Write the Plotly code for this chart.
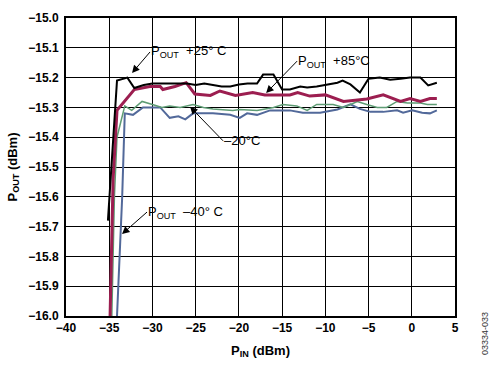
import plotly.graph_objects as go

# P_IN (dBm) and P_OUT (dBm)
x_p25 = [-35.15, -34.1, -32.9, -32.1, -31.0, -30.0, -29.0, -28.0, -27.0, -26.0, -25.0, -24.0, -23.0, -22.0,
         -21.0, -20.0, -19.0, -17.9, -17.2, -16.0, -15.0, -14.1, -12.9, -12.1, -11.0, -9.8, -8.6, -8.0,
         -7.1, -6.0, -5.0, -3.7, -2.5, -1.3, -0.2, 1.0, 1.9, 2.9]
y_p25 = [-15.68, -15.21, -15.20, -15.235, -15.225, -15.22, -15.22, -15.22, -15.22, -15.22, -15.225, -15.22,
         -15.225, -15.23, -15.23, -15.223, -15.22, -15.22, -15.19, -15.19, -15.24, -15.24, -15.23, -15.233,
         -15.23, -15.223, -15.217, -15.21, -15.223, -15.25, -15.204, -15.20, -15.207, -15.204, -15.20,
         -15.20, -15.226, -15.217]

x_p85 = [-34.9, -34.55, -34.1, -32.1, -30.3, -29.1, -28.8, -27.4, -26.1, -25.1, -23.3, -22.2, -20.4, -19.9,
         -18.4, -17.0, -14.1, -13.2, -11.8, -10.0, -7.9, -5.2, -3.3, -1.3, -0.2, 1.0, 2.1, 2.9]
y_p85 = [-16.0, -15.54, -15.31, -15.24, -15.23, -15.23, -15.24, -15.23, -15.217, -15.255, -15.26, -15.245,
         -15.26, -15.258, -15.25, -15.258, -15.258, -15.25, -15.262, -15.258, -15.28, -15.272, -15.258,
         -15.28, -15.27, -15.28, -15.27, -15.27]

x_m20 = [-34.7, -34.4, -34.1, -33.2, -32.4, -31.2, -30.0, -28.9, -28.0, -26.8, -25.3, -24.1, -23.0, -20.7,
         -19.9, -17.9, -16.0, -14.9, -13.3, -12.1, -11.0, -9.1, -7.9, -6.3, -5.2, -4.0, -2.9, -1.7, -0.5,
         1.0, 1.8, 2.9]
y_m20 = [-16.0, -15.6, -15.40, -15.295, -15.31, -15.28, -15.29, -15.30, -15.295, -15.30, -15.29, -15.30,
         -15.305, -15.31, -15.307, -15.31, -15.30, -15.29, -15.295, -15.31, -15.29, -15.29, -15.30, -15.28,
         -15.29, -15.30, -15.30, -15.28, -15.285, -15.285, -15.29, -15.29]

x_m40 = [-34.1, -33.5, -33.2, -32.25, -31.1, -29.1, -28.0, -27.0, -26.2, -25.3, -23.0, -21.0, -19.9, -19.05,
         -17.9, -16.4, -14.1, -12.6, -10.6, -8.6, -7.1, -6.0, -4.8, -3.3, -1.7, -1.0, 0.05, 1.2, 2.1, 2.9]
y_m40 = [-16.0, -15.60, -15.32, -15.325, -15.30, -15.30, -15.335, -15.33, -15.34, -15.32, -15.32, -15.325,
         -15.335, -15.32, -15.325, -15.31, -15.31, -15.318, -15.318, -15.307, -15.29, -15.305, -15.315,
         -15.315, -15.31, -15.318, -15.31, -15.318, -15.32, -15.31]

x_ticks = [-40, -35, -30, -25, -20, -15, -10, -5, 0, 5]
y_ticks = [-15.0, -15.1, -15.2, -15.3, -15.4, -15.5, -15.6, -15.7, -15.8, -15.9, -16.0]

FONT = "Liberation Sans, Arial, sans-serif"

fig = go.Figure()
fig.add_trace(go.Scatter(x=x_m40, y=y_m40, mode="lines", line=dict(color="#52699A", width=2), name="-40°C"))
fig.add_trace(go.Scatter(x=x_m20, y=y_m20, mode="lines", line=dict(color="#5E9C74", width=1.5), name="-20°C"))
fig.add_trace(go.Scatter(x=x_p85, y=y_p85, mode="lines", line=dict(color="#9C1E50", width=3), name="+85°C"))
fig.add_trace(go.Scatter(x=x_p25, y=y_p25, mode="lines", line=dict(color="#000000", width=2), name="+25°C"))


def callout(hx, hy, ax, ay, text):
    fig.add_annotation(x=hx, y=hy, ax=ax, ay=ay, text=text, showarrow=True, arrowhead=2,
                       arrowsize=1.5, arrowwidth=1, arrowcolor="black", standoff=0,
                       xanchor="left", yanchor="middle", borderpad=0,
                       font=dict(family=FONT, size=13, color="black"))


callout(-32.36, -15.1845, 18, -21, "P<sub>OUT</sub>  +25° C")
callout(-16.85, -15.252, 31, -32, "P<sub>OUT</sub>  +85°C")
callout(-25.65, -15.298, 33, 34, "–20°C")
callout(-33.52, -15.725, 25, -22, "P<sub>OUT</sub>  –40° C")

fig.add_annotation(text="03334-033", x=1.0, xref="paper", xanchor="center", xshift=30,
                   y=0, yref="paper", yanchor="middle", yshift=-18, textangle=-90, showarrow=False,
                   font=dict(family=FONT, size=9, color="#333333"))

axis_common = dict(showgrid=True, gridcolor="black", gridwidth=1, showline=True, linecolor="black",
                   linewidth=2, mirror=True, zeroline=False, ticks="",
                   tickfont=dict(family=FONT, size=12, color="black", weight="bold"))

fig.update_layout(
    width=496, height=367, margin=dict(l=66, r=41, t=11, b=47),
    paper_bgcolor="white", plot_bgcolor="white", showlegend=False,
    xaxis=dict(range=[-40, 5], tickvals=x_ticks, **axis_common,
               title=dict(text="P<sub>IN</sub> (dBm)", standoff=11,
                          font=dict(family=FONT, size=13, color="black", weight="bold"))),
    yaxis=dict(range=[-16.0, -15.0], tickvals=y_ticks, tickformat=".1f", ticklabelstandoff=3,
               **axis_common,
               title=dict(text="P<sub>OUT</sub> (dBm)", standoff=8,
                          font=dict(family=FONT, size=13, color="black", weight="bold"))),
)

# remove the browser's default 8px body margin so the figure fills the window
fig.write_html("out.html", config={"displayModeBar": False},
               post_script="document.body.style.margin='0';document.body.style.overflow='hidden';")
